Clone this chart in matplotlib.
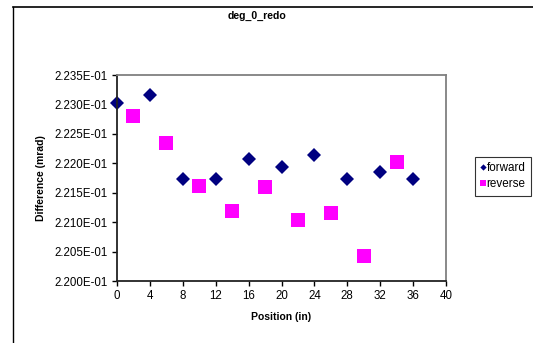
import matplotlib
matplotlib.use("Agg")
from matplotlib import pyplot as plt
import matplotlib.ticker as mticker
from matplotlib.lines import Line2D

# values
fwd_pos = [0, 4, 8, 12, 16, 20, 24, 28, 32, 36]
fwd_diff = [0.22302, 0.22316, 0.22174, 0.22174, 0.22207,
            0.22193, 0.22214, 0.22173, 0.22186, 0.22174]
rev_pos = [2, 6, 10, 14, 18, 22, 26, 30, 34]
rev_diff = [0.22281, 0.22234, 0.22161, 0.22119, 0.22159,
            0.22104, 0.22115, 0.22042, 0.22203]

plt.rcParams['font.family'] = ['Liberation Sans', 'DejaVu Sans']

fig = plt.figure(figsize=(5.33, 3.43), dpi=100)
W, H = 533, 343

# outer chart frame: only left and top edges fall inside the canvas
fx, fy = 12.5 / W, 1 - 6.5 / H
fig.add_artist(Line2D([fx, fx], [-0.01, fy], transform=fig.transFigure,
                      color='black', linewidth=1.0, solid_capstyle='projecting'))
fig.add_artist(Line2D([fx, 1.01], [fy, fy], transform=fig.transFigure,
                      color='black', linewidth=1.2, solid_capstyle='projecting'))

ax = fig.add_axes([117 / W, 1 - 281 / H, (446 - 117) / W, (281 - 75) / H])

ax.plot(fwd_pos, fwd_diff, linestyle='none', marker='D', markersize=6.8,
        color='#000080', markeredgewidth=0, label='forward', clip_on=False)
ax.plot(rev_pos, rev_diff, linestyle='none', marker='s', markersize=10.4,
        color='#FF00FF', markeredgewidth=0, label='reverse', clip_on=False)

ax.set_xlim(0, 40)
ax.set_ylim(0.2200, 0.2235)
ax.set_xticks(range(0, 41, 4))
ax.set_yticks([0.2200, 0.2205, 0.2210, 0.2215, 0.2220, 0.2225, 0.2230, 0.2235])
ax.yaxis.set_major_formatter(mticker.FuncFormatter(lambda v, pos: f'{v:.3E}'))
ax.tick_params(direction='out', length=3.5, width=1.0, labelsize=8.3,
               colors='black', pad=3)

for side in ['left', 'bottom']:
    ax.spines[side].set_color('#222222')
    ax.spines[side].set_linewidth(1.3)
for side in ['top', 'right']:
    ax.spines[side].set_color('#808080')
    ax.spines[side].set_linewidth(1.3)

ax.set_xlabel('Position (in)', fontsize=7.5, fontweight='bold', labelpad=7)
ax.set_ylabel('Difference (mrad)', fontsize=7.5, fontweight='bold', labelpad=6)

fig.text(257 / W, 1 - 16 / H, 'deg_0_redo', fontsize=7.6, fontweight='bold',
         ha='center', va='center')

leg = fig.legend(loc='upper left', bbox_to_anchor=(475 / W, 1 - 157 / H),
                 fontsize=8.4, frameon=True, fancybox=False, edgecolor='black',
                 handlelength=0.45, handletextpad=0.1, borderpad=0.45,
                 labelspacing=0.35, borderaxespad=0)
leg.get_frame().set_linewidth(0.8)
hd, hs = leg.legend_handles
hd.set_markersize(3.2)
hs.set_markersize(4.8)

fig.savefig('out.png', dpi=100)
